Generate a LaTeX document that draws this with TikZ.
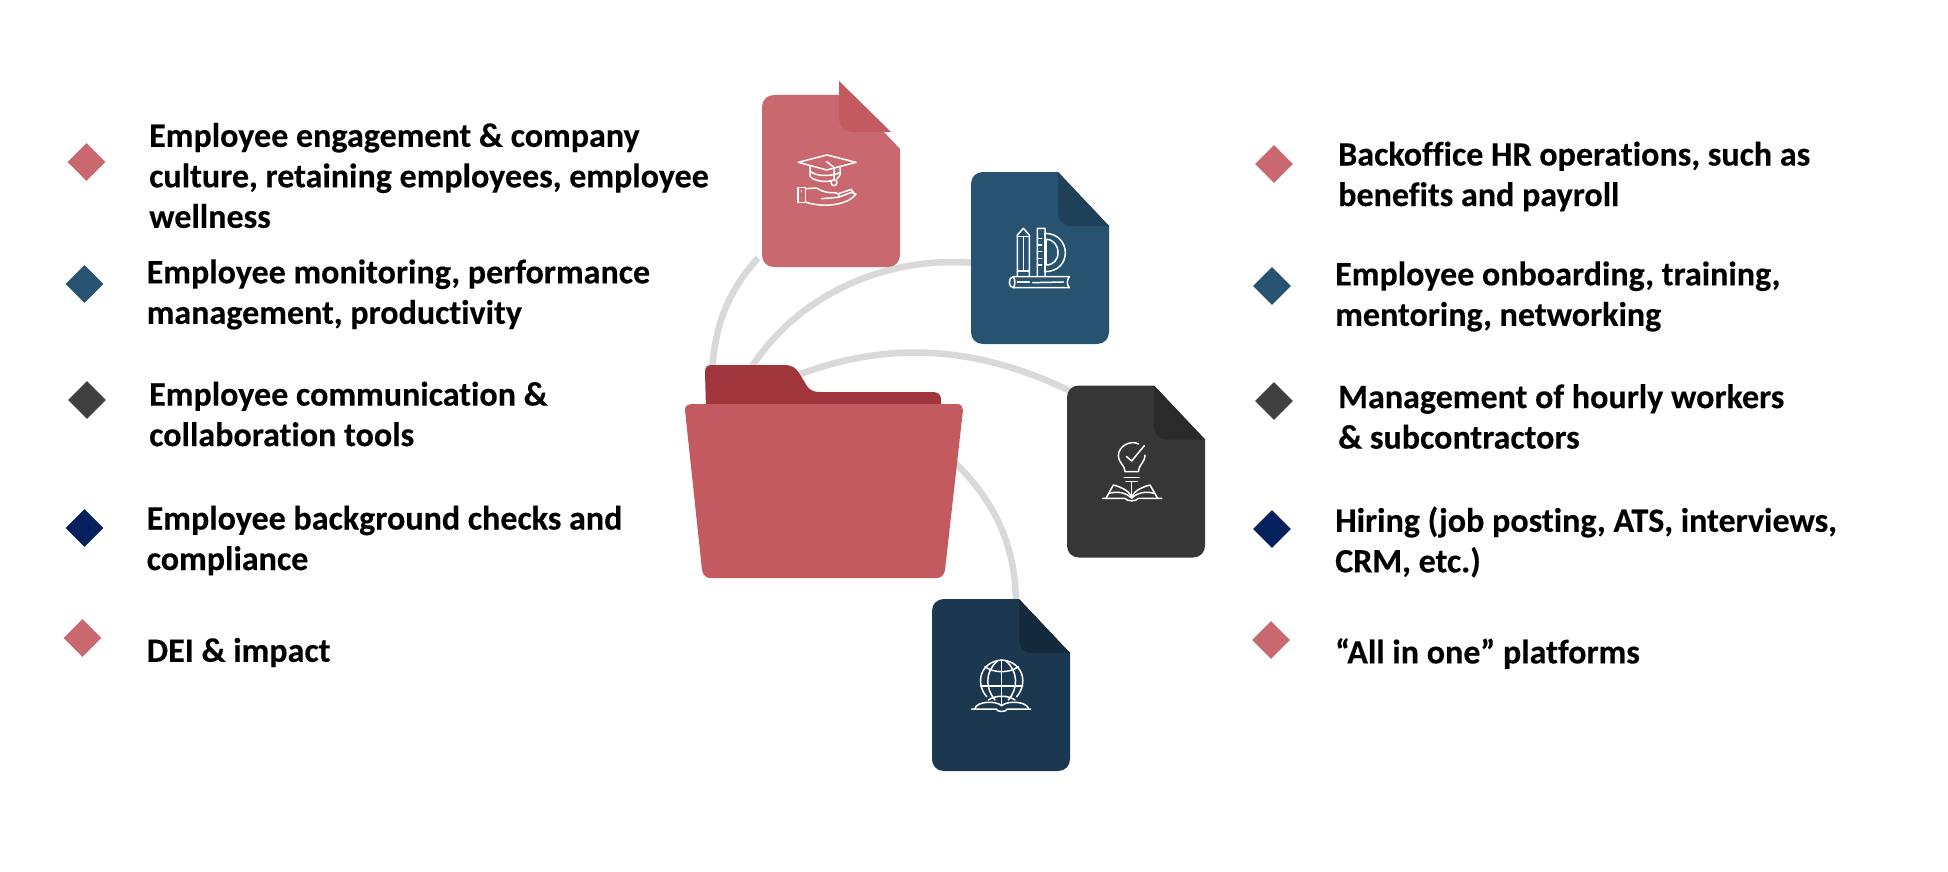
\documentclass[tikz,border=0pt]{standalone}
\usepackage{fontspec}
\setmainfont{Carlito}[Ligatures=CommonOff,BoldFeatures={FakeBold=0.25}]
\usetikzlibrary{shapes.geometric}
\definecolor{rosec}{HTML}{C9686F}
\definecolor{redc}{HTML}{C25A60}
\definecolor{maroonc}{HTML}{A0353B}
\definecolor{bluec}{HTML}{275270}
\definecolor{bluefold}{HTML}{1F4059}
\definecolor{darkc}{HTML}{363636}
\definecolor{darkfold}{HTML}{2A2A2A}
\definecolor{navyc}{HTML}{1B3850}
\definecolor{navyfold}{HTML}{122A3C}
\definecolor{greyd}{HTML}{404040}
\definecolor{navyd}{HTML}{05225F}
\definecolor{linkc}{HTML}{D9D9D9}
\tikzset{
  label/.style={anchor=west,align=left,inner sep=0pt,font=\fontsize{34.05}{40.5}\selectfont\bfseries,text=black},
  bullet/.style={diamond,aspect=1,inner sep=0pt,minimum width=38pt,minimum height=38pt,fill=#1},
  link/.style={draw=linkc,line width=6.5pt},
  ico/.style={draw=white,line width=1.5pt,line cap=round,line join=round},
  sheet/.style={inner sep=0pt,minimum width=138pt,minimum height=172pt,anchor=north west}
}
\newcommand{\sheetbody}[2]{%
  \fill[#1] (87,0) -- (12,0) .. controls (5,0) and (0,5) .. (0,12) -- (0,160) .. controls (0,167) and (5,172) .. (12,172)
    -- (126,172) .. controls (133,172) and (138,167) .. (138,160) -- (138,54) -- cycle;
  #2}
\begin{document}
\begin{tikzpicture}[x=1pt,y=-1pt]
\useasboundingbox (0,0) rectangle (1948,872);
\fill[white] (0,0) rectangle (1948,872);
% anchors of the connectors
\coordinate (a1) at (758,258); \coordinate (f1) at (712,375);
\coordinate (a2) at (974,263); \coordinate (f2) at (747,375);
\coordinate (a3) at (1072,392); \coordinate (f3) at (790,378);
\coordinate (f4) at (950,458); \coordinate (a4) at (1016,605);
\draw[link] (a1) .. controls (725,295) and (714,330) .. (f1);
\draw[link] (a2) .. controls (880,255) and (790,300) .. (f2);
\draw[link] (a3) .. controls (970,342) and (880,342) .. (f3);
\draw[link] (f4) .. controls (990,495) and (1016,540) .. (a4);
% documents
\begin{scope}[shift={(762,95)}]
  \sheetbody{rosec}{\fill[redc] (77,-14) -- (129,37) -- (92,37) .. controls (83,37) and (77,31) .. (77,22) -- cycle;}
  \node[sheet] (docA) at (0,0) {};
\end{scope}
\begin{scope}[shift={(971,172)}]
  \sheetbody{bluec}{\fill[bluefold] (87,0) -- (138,54) -- (100,54) .. controls (92,54) and (87,48) .. (87,40) -- cycle;}
  \node[sheet] (docB) at (0,0) {};
\end{scope}
\begin{scope}[shift={(1067,385.5)}]
  \sheetbody{darkc}{\fill[darkfold] (87,0) -- (138,54) -- (100,54) .. controls (92,54) and (87,48) .. (87,40) -- cycle;}
  \node[sheet] (docC) at (0,0) {};
\end{scope}
\begin{scope}[shift={(932,599)}]
  \sheetbody{navyc}{\fill[navyfold] (87,0) -- (138,54) -- (100,54) .. controls (92,54) and (87,48) .. (87,40) -- cycle;}
  \node[sheet] (docD) at (0,0) {};
\end{scope}
% folder
\fill[maroonc] (705,372) .. controls (705,367) and (707,365) .. (712,365) -- (784,365) .. controls (792,365) and (796,368) .. (799,373)
  -- (807,386) .. controls (810,391) and (815,392) .. (820,392) -- (933,392) .. controls (938,392) and (941,395) .. (941,399) -- (941,410) -- (706,410) -- cycle;
\fill[redc] (685,410) .. controls (685,406) and (688,404) .. (691,404) -- (957,404) .. controls (961,404) and (963,407) .. (963,410)
  -- (945,570) .. controls (944,575) and (941,578) .. (937,578) -- (710,578) .. controls (706,578) and (703,575) .. (702,570) -- cycle;
\node[inner sep=0pt,minimum width=279pt,minimum height=174pt] (folder) at (823,491) {};
% icon A: cap and hand
\begin{scope}[shift={(770,140)},x=0.3333pt,y=-0.3333pt,ico]
  \draw (85,67) -- (170,45) -- (258,67) -- (170,90) -- cycle;
  \draw (120,80) -- (120,108) .. controls (128,122) and (165,128) .. (183,122);
  \draw (120,93) .. controls (135,108) and (175,112) .. (210,98);
  \draw (210,78) -- (210,105) -- (201,117);
  \draw (170,65) -- (192,82) -- (192,118);
  \draw (192,128) circle[radius=9];
  \draw (84,142) rectangle (106,188);
  \draw (95,152) -- (95,155);
  \draw (106,146) -- (140,144) .. controls (150,150) and (160,158) .. (190,158) .. controls (205,158) and (210,164) .. (205,172) -- (155,176);
  \draw (208,160) -- (245,148) -- (247,158) -- (258,162) .. controls (235,195) and (160,205) .. (106,186);
  \draw (205,172) -- (250,155);
\end{scope}
% icon B: pencil, protractor and book
\begin{scope}[shift={(990,210)},x=0.3333pt,y=-0.3333pt,ico]
  \draw (82,198) -- (82,75) -- (100,55) -- (118,75) -- (118,198);
  \draw (82,80) -- (118,80);
  \draw (100,80) -- (100,183);
  \draw (82,183) -- (118,183);
  \draw (142,198) -- (142,55) -- (165,55) -- (165,70) .. controls (205,70) and (226,100) .. (226,128) .. controls (226,158) and (205,185) .. (165,185) -- (165,198);
  \draw (165,70) -- (165,185);
  \draw (168,88) .. controls (190,88) and (204,105) .. (204,128) .. controls (204,150) and (190,165) .. (168,165) -- cycle;
  \foreach \ty in {85,105,125,145,165} \draw (142,\ty) -- (155,\ty);
  \draw (238,200) -- (70,200) .. controls (62,200) and (58,208) .. (58,217) .. controls (58,226) and (62,233) .. (70,233) -- (238,233);
  \draw (238,200) .. controls (230,208) and (230,226) .. (238,233);
  \draw (70,200) .. controls (76,208) and (76,226) .. (70,233);
  \draw (82,216) -- (118,216);
  \draw (128,218) -- (220,216);
\end{scope}
% icon C: bulb and book
\begin{scope}[shift={(1090,430)},x=0.3333pt,y=-0.3333pt,ico]
  \draw (146,42) .. controls (125,30) and (85,45) .. (85,78) .. controls (85,98) and (105,105) .. (105,125) -- (145,125) .. controls (145,105) and (165,98) .. (165,75);
  \draw (110,80) -- (125,93) -- (163,47);
  \draw (103,142) -- (147,142);
  \draw (108,155) -- (142,155);
  \draw (125,155) -- (125,200);
  \draw (38,205) -- (105,205) .. controls (110,215) and (140,215) .. (145,205) -- (215,205);
  \draw (48,205) -- (70,165) .. controls (90,170) and (115,180) .. (125,200) .. controls (135,180) and (160,170) .. (180,165) -- (203,205);
  \draw (58,190) .. controls (85,182) and (112,190) .. (125,205) .. controls (138,190) and (165,182) .. (192,190);
\end{scope}
% icon D: globe and book
\begin{scope}[shift={(960,655)},x=0.3333pt,y=-0.3333pt,ico]
  \draw (80,125) .. controls (45,85) and (60,20) .. (125,15) .. controls (190,20) and (205,85) .. (170,125);
  \draw (125,15) -- (125,150);
  \draw (62,93) -- (188,93);
  \draw (112,18) .. controls (75,50) and (75,100) .. (105,135);
  \draw (138,18) .. controls (175,50) and (175,100) .. (145,135);
  \draw (75,35) .. controls (100,55) and (150,55) .. (175,35);
  \draw (85,135) .. controls (105,120) and (145,120) .. (165,135);
  \draw (35,162) -- (108,162) .. controls (112,172) and (138,172) .. (142,162) -- (212,162);
  \draw (45,160) .. controls (50,140) and (105,135) .. (125,152) .. controls (145,135) and (200,140) .. (205,160);
\end{scope}
% bullets
\node[bullet=rosec] (b1) at (86.5,162) {};
\node[bullet=bluec] (b2) at (84.5,284) {};
\node[bullet=greyd] (b3) at (87,400) {};
\node[bullet=navyd] (b4) at (84.5,528) {};
\node[bullet=rosec] (b5) at (82.5,638) {};
\node[bullet=rosec] (b6) at (1274,164) {};
\node[bullet=bluec] (b7) at (1272,286) {};
\node[bullet=greyd] (b8) at (1274,401) {};
\node[bullet=navyd] (b9) at (1272,529) {};
\node[bullet=rosec] (b10) at (1271,640) {};
% texts
\node[label] (t1) at (149,175.5) {Employee engagement \& company\\culture, retaining employees, employee\\wellness};
\node[label] (t2) at (146.5,294.5) {Employee monitoring, performance\\management, productivity};
\node[label] (t3) at (149,414) {Employee communication \&\\collaboration tools};
\node[label] (t4) at (146.5,540.5) {Employee background checks and\\compliance};
\node[label] (t5) at (146.5,652.5) {DEI \& impact};
\node[label] (t6) at (1338,176.5) {Backoffice HR operations, such as\\benefits and payroll};
\node[label] (t7) at (1335,296.5) {Employee onboarding, training,\\mentoring, networking};
\node[label] (t8) at (1338,416.5) {Management of hourly workers\\\& subcontractors};
\node[label] (t9) at (1335,542) {Hiring (job posting, ATS, interviews,\\CRM, etc.)};
\node[label] (t10) at (1335,653.5) {“All in one” platforms};
\end{tikzpicture}
\end{document}
